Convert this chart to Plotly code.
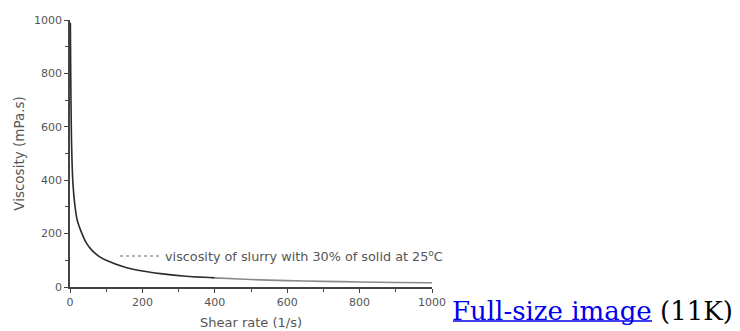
import plotly.graph_objects as go

# Flow curve of the slurry: shear rate (1/s) vs apparent viscosity (mPa.s)
shear_rate = [1, 2, 4, 8, 14, 20, 33, 45, 60, 80, 100, 150, 200, 250, 320,
              400, 500, 600, 700, 800, 900, 1000]
viscosity = [990, 800, 560, 390, 300, 250, 200, 165, 138, 115, 100, 75, 60, 50, 40,
             34, 28, 24, 21, 19, 17, 16]

series_name = "viscosity of slurry with 30% of solid at 25<sup>o</sup>C"

sans = "DejaVu Sans, Verdana, sans-serif"
axis_font = dict(family=sans, size=11, color="#555555")
title_font = dict(family=sans, size=13.5, color="#555555")

# plot area in pixels: x 70..432, y 20..287
L, R, T, B = 70, 432, 20, 287
def px(x):
    return (x - L) / (R - L)
def py(y):
    return (B - y) / (B - T)

# the curve is drawn dark up to 400 1/s and fades to grey along the tail
split = shear_rate.index(400)
fig = go.Figure()
fig.add_trace(go.Scatter(
    x=shear_rate[:split + 1], y=viscosity[:split + 1], mode="lines", name=series_name,
    line=dict(color="#2b2b2b", width=1.6, shape="spline", smoothing=0.6),
    showlegend=False,
))
fig.add_trace(go.Scatter(
    x=shear_rate[split:], y=viscosity[split:], mode="lines", name=series_name,
    line=dict(color="#8a8a8a", width=1.6, shape="spline", smoothing=0.6),
    showlegend=False,
))

# legend sample and label
fig.add_shape(type="line", xref="paper", yref="paper",
              x0=px(120), x1=px(160), y0=py(256), y1=py(256),
              line=dict(color="#b5b5b5", width=2, dash="dot"))
fig.add_annotation(xref="paper", yref="paper",
                   x=px(163), y=py(256),
                   xanchor="left", yanchor="middle", showarrow=False,
                   text=series_name,
                   font=dict(family=sans, size=12.8, color="#555555"))

# link text beside the chart
fig.add_annotation(xref="paper", yref="paper",
                   x=px(450), y=py(311),
                   xanchor="left", yanchor="middle", showarrow=False,
                   text="<span style='color:#0000ee'>Full-size image</span> (11K)",
                   font=dict(family="DejaVu Serif, Liberation Serif, serif", size=26, color="#000000"))
fig.add_shape(type="line", xref="paper", yref="paper",
              x0=px(453), x1=px(652), y0=py(321), y1=py(321),
              line=dict(color="#0000ee", width=1.5))

axis_common = dict(
    showline=True, linecolor="#444444", linewidth=1.5,
    ticks="outside", ticklen=4, tickwidth=1.3, tickcolor="#444444",
    showgrid=False, zeroline=False, tickfont=axis_font,
    tick0=0, dtick=200, automargin=False,
    minor=dict(ticks="outside", ticklen=3, tickwidth=1.2, tickcolor="#444444",
               tick0=0, dtick=100, showgrid=False),
)

fig.update_layout(
    width=740, height=331,
    margin=dict(l=L, r=740 - R, t=T, b=331 - B),
    paper_bgcolor="white", plot_bgcolor="white",
    xaxis=dict(range=[0, 1000],
               title=dict(text="Shear rate (1/s)", font=dict(family=sans, size=13, color="#555555"),
                          standoff=10),
               **axis_common),
    yaxis=dict(range=[0, 1000],
               title=dict(text="Viscosity (mPa.s)", font=title_font, standoff=6),
               **axis_common),
)

fig.write_html("out.html")
